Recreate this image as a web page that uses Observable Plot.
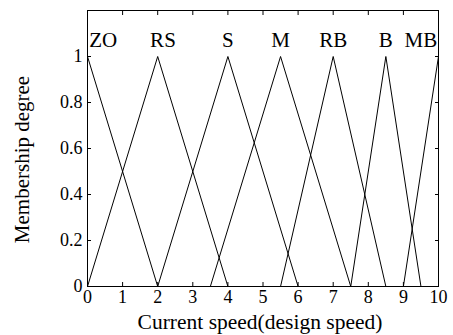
<!DOCTYPE html>
<html><head><meta charset="utf-8">
<script src="https://cdn.jsdelivr.net/npm/d3@7"></script>
<script src="https://cdn.jsdelivr.net/npm/@observablehq/plot@0.6"></script>
<style>html,body{margin:0;padding:0;background:#fff;font-family:'Liberation Serif',serif} svg{display:block}</style>
</head><body><div id="chart"></div>
<script>
const setNames = ["ZO", "RS", "S", "M", "RB", "B", "MB"];
const leftFoot = [null, 0, 2, 3.5, 5.5, 7.5, 9];
const peak = [0, 2, 4, 5.5, 7, 8.5, 10];
const rightFoot = [2, 4, 6, 7.5, 8.5, 9.5, null];
const nameX = [0.45, 2.15, 4, 5.5, 7, 8.5, 9.5];
const nameY = 1.07;
const xTicks = [0, 1, 2, 3, 4, 5, 6, 7, 8, 9, 10];
const yTicks = [0, 0.2, 0.4, 0.6, 0.8, 1];
const yTickLabels = ["0", "0.2", "0.4", "0.6", "0.8", "1"];
const xTitle = "Current speed(design speed)";
const yTitle = "Membership degree";

const pts = [];
setNames.forEach((n, i) => {
  if (leftFoot[i] !== null) pts.push({set: n, x: leftFoot[i], y: 0});
  pts.push({set: n, x: peak[i], y: 1});
  if (rightFoot[i] !== null) pts.push({set: n, x: rightFoot[i], y: 0});
});
const names = setNames.map((n, i) => ({name: n, x: nameX[i], y: nameY}));

const font = "'Liberation Serif', serif";
const chart = Plot.plot({
  width: 453,
  height: 335,
  marginLeft: 87,
  marginRight: 15,
  marginTop: 10,
  marginBottom: 49,
  style: {fontFamily: font, fontSize: "18px", color: "black", background: "white"},
  x: {domain: [0, 10]},
  y: {domain: [0, 1.2]},
  marks: [
    Plot.axisX({anchor: "bottom", ticks: xTicks, tickSize: -4, tickPadding: 8, fontSize: 18, fontFamily: font, label: null, tickFormat: d => String(d)}),
    Plot.axisX({anchor: "top", ticks: xTicks, tickSize: -4, label: null, tickFormat: () => ""}),
    Plot.axisY({anchor: "left", ticks: yTicks, tickSize: -4, tickPadding: 9, fontSize: 18, fontFamily: font, label: null, tickFormat: (d, i) => yTickLabels[i]}),
    Plot.axisY({anchor: "right", ticks: yTicks, tickSize: -4, label: null, tickFormat: () => ""}),
    Plot.line(pts, {x: "x", y: "y", z: "set", stroke: "black", strokeWidth: 1}),
    Plot.text(names, {x: "x", y: "y", text: "name", fontSize: 21, fontFamily: font, fill: "black"}),
    Plot.text([xTitle], {frameAnchor: "bottom", textAnchor: "middle", lineAnchor: "middle", text: d => d, dy: 36, dx: -3, fontSize: 21.5, fontFamily: font, fill: "black"}),
    Plot.text([yTitle], {frameAnchor: "left", textAnchor: "middle", lineAnchor: "middle", text: d => d, rotate: -90, dx: -65, dy: 11, fontSize: 21, fontFamily: font, fill: "black"}),
    Plot.frame({stroke: "black", strokeWidth: 1})
  ]
});
document.getElementById("chart").appendChild(chart);
</script>
</body></html>
